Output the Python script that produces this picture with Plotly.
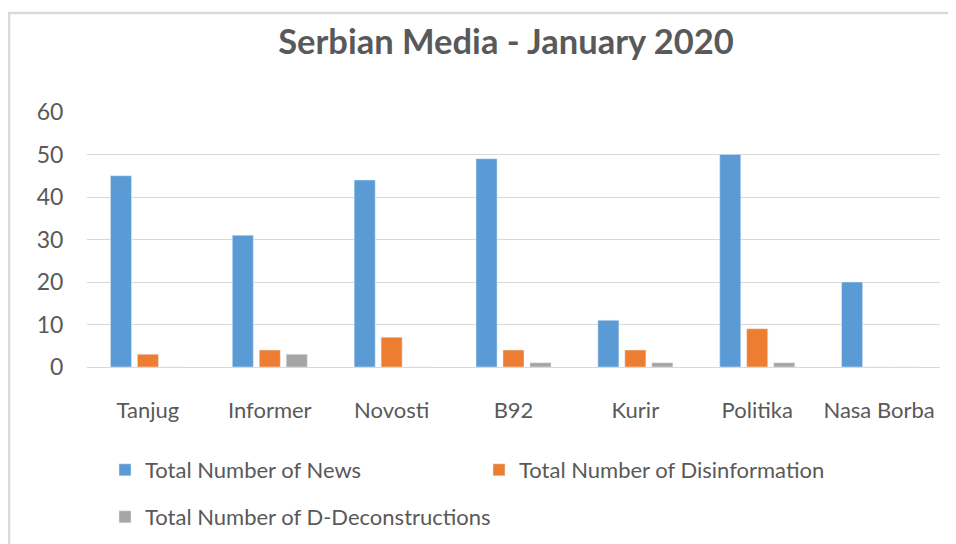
import plotly.graph_objects as go

categories = ["Tanjug", "Informer", "Novosti", "B92", "Kurir", "Politika", "Nasa Borba"]
news = [45, 31, 44, 49, 11, 50, 20]
disinfo = [3, 4, 7, 4, 4, 9, 0]
deconstr = [0, 3, 0, 1, 1, 1, 0]
y_ticks = [0, 10, 20, 30, 40, 50, 60]

FONT = "Lato"
TXT = "#595959"

# page body margin offsets the figure by 8px; work in screen pixels and subtract it
OFF = 8
W, H = 956 - OFF, 544 - OFF
PL, PR, PT, PB = 87, 940, 112, 367  # plot area in screen pixels
L, R, T, B = PL - OFF, W - (PR - OFF), PT - OFF, H - (PB - OFF)
pw, ph = W - L - R, H - T - B


def px(x):
    return (x - OFF - L) / pw


def py(y):
    return (H - B - (y - OFF)) / ph


fig = go.Figure()
fig.add_trace(go.Bar(x=categories, y=news, name="Total Number of News",
                     marker=dict(color="#5B9BD5"), legend="legend"))
fig.add_trace(go.Bar(x=categories, y=disinfo, name="Total Number of Disinformation",
                     marker=dict(color="#ED7D31"), legend="legend"))
fig.add_trace(go.Bar(x=categories, y=deconstr, name="Total Number of D-Deconstructions",
                     marker=dict(color="#A5A5A5"), legend="legend2"))

fig.update_layout(
    width=W, height=H,
    margin=dict(l=L, r=R, t=T, b=B, autoexpand=False),
    paper_bgcolor="white", plot_bgcolor="white",
    barmode="group", bargap=0.336, bargroupgap=0.22,
    font=dict(family=FONT, color=TXT, size=22),
    title=dict(text="<b>Serbian Media - January 2020</b>", x=(506 - OFF) / W, xanchor="center",
               y=1 - (42 - OFF) / H, yanchor="middle", xref="container", yref="container",
               font=dict(family=FONT, size=34.5, color=TXT)),
    xaxis=dict(showgrid=False, showline=False, zeroline=False,
               ticks="outside", ticklen=24, tickcolor="rgba(0,0,0,0)",
               tickfont=dict(family=FONT, size=22, color=TXT)),
    yaxis=dict(range=[0, 60], tickvals=y_ticks, showgrid=True, gridcolor="#D9D9D9",
               gridwidth=1, zeroline=True, zerolinecolor="#D9D9D9", zerolinewidth=1,
               showline=False, ticks="outside", ticklen=18, tickcolor="rgba(0,0,0,0)",
               tickfont=dict(family=FONT, size=23, color=TXT)),
    legend=dict(orientation="h", x=px(105), y=py(449), xanchor="left", yanchor="top",
                entrywidth=329, entrywidthmode="pixels",
                font=dict(family=FONT, size=22, color=TXT), bgcolor="rgba(0,0,0,0)"),
    legend2=dict(orientation="h", x=px(105), y=py(496), xanchor="left", yanchor="top",
                 font=dict(family=FONT, size=22, color=TXT), bgcolor="rgba(0,0,0,0)"),
    showlegend=True,
)

fig.add_shape(type="rect", xref="paper", yref="paper",
              x0=px(9), x1=px(1000), y0=py(13), y1=py(600),
              line=dict(color="#D9D9D9", width=2.5), fillcolor="rgba(0,0,0,0)", layer="below")

fig.write_html("out.html")
